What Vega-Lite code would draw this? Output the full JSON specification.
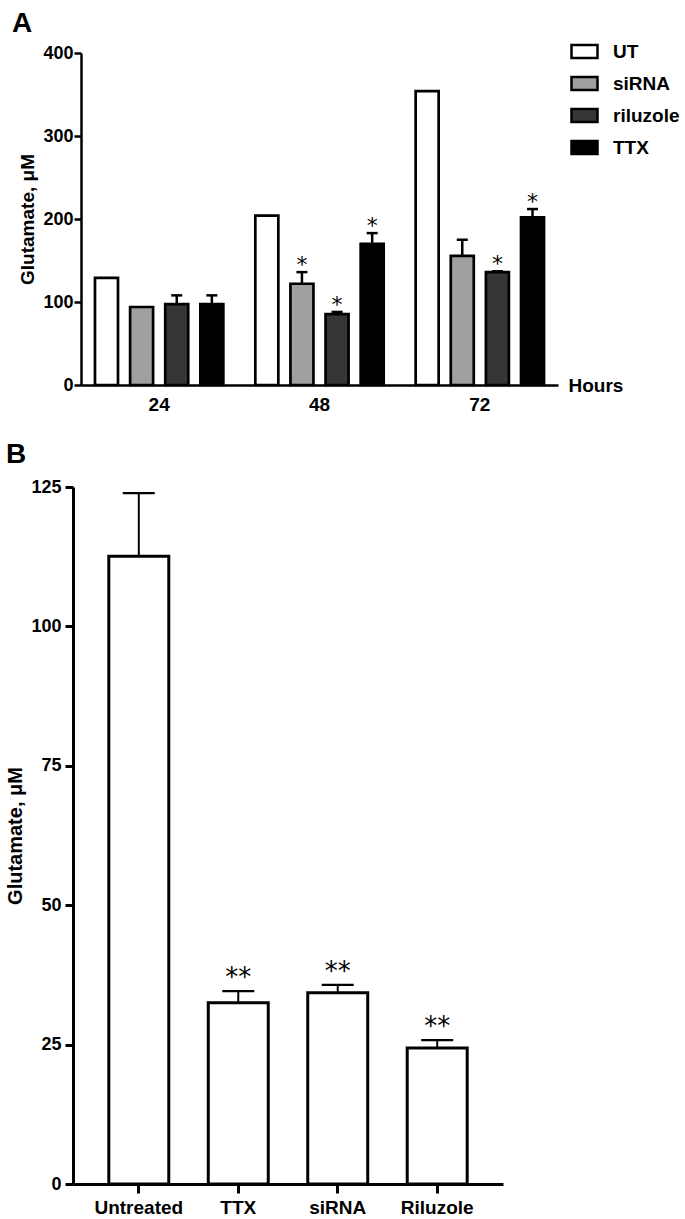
{
  "$schema": "https://vega.github.io/schema/vega-lite/v6.json",
  "background": "white",
  "padding": {"left": 5, "top": 10, "right": 0, "bottom": 0},
  "spacing": 27,
  "config": {
    "view": {"stroke": null},
    "font": "Liberation Sans",
    "axis": {
      "domainColor": "black", "tickColor": "black", "labelColor": "black", "titleColor": "black",
      "labelFont": "Liberation Sans", "labelFontWeight": "bold", "labelFontSize": 18,
      "titleFont": "Liberation Sans", "titleFontWeight": "bold", "titleFontSize": 19,
      "grid": false
    },
    "title": {"font": "Liberation Sans", "fontWeight": "bold", "fontSize": 28, "color": "black", "anchor": "start", "frame": "group"}
  },
  "vconcat": [
    {
      "title": {"text": "A", "dx": -61, "offset": 6},
      "width": 485,
      "height": 332,
      "data": {"values": [
        {"hours": "24", "group": "UT", "mean": 129, "err": null, "star": ""},
        {"hours": "24", "group": "siRNA", "mean": 94, "err": null, "star": ""},
        {"hours": "24", "group": "riluzole", "mean": 97.5, "err": 108, "star": ""},
        {"hours": "24", "group": "TTX", "mean": 97.5, "err": 108, "star": ""},
        {"hours": "48", "group": "UT", "mean": 204, "err": null, "star": ""},
        {"hours": "48", "group": "siRNA", "mean": 122, "err": 136, "star": "*"},
        {"hours": "48", "group": "riluzole", "mean": 85.5, "err": 88, "star": "*"},
        {"hours": "48", "group": "TTX", "mean": 170, "err": 183, "star": "*"},
        {"hours": "72", "group": "UT", "mean": 354, "err": null, "star": ""},
        {"hours": "72", "group": "siRNA", "mean": 155.5, "err": 175, "star": ""},
        {"hours": "72", "group": "riluzole", "mean": 136, "err": 137, "star": "*"},
        {"hours": "72", "group": "TTX", "mean": 202, "err": 212, "star": "*"}
      ]},
      "encoding": {
        "x": {
          "field": "hours", "type": "nominal", "sort": ["24", "48", "72"],
          "scale": {"range": [8, 485], "paddingInner": 0.125, "paddingOuter": 0.05},
          "axis": {
            "domainWidth": 2.5, "ticks": false, "labelPadding": 10, "labelAngle": 0, "labelFontSize": 19,
            "title": "Hours", "titleX": 495, "titleY": 0, "titleAlign": "left", "titleBaseline": "middle", "titleAngle": 0
          }
        },
        "xOffset": {
          "field": "group", "type": "nominal", "sort": ["UT", "siRNA", "riluzole", "TTX"],
          "scale": {"paddingInner": 0.345, "paddingOuter": 0.17}
        }
      },
      "layer": [
        {
          "mark": {"type": "bar", "stroke": "black", "strokeWidth": 2.7},
          "encoding": {
            "y": {
              "field": "mean", "type": "quantitative",
              "scale": {"domain": [0, 400], "nice": false},
              "axis": {
                "values": [0, 100, 200, 300, 400], "offset": -8, "domainWidth": 2.5, "tickWidth": 2.5, "tickSize": 7,
                "labelPadding": 1, "title": "Glutamate, μM", "titlePadding": 5
              }
            },
            "fill": {
              "field": "group", "type": "nominal",
              "scale": {"domain": ["UT", "siRNA", "riluzole", "TTX"], "range": ["#ffffff", "#a0a0a0", "#363636", "#000000"]},
              "legend": {
                "orient": "none", "legendX": 497, "legendY": -16, "title": null,
                "symbolType": "M-1,-0.5H1V0.5H-1Z", "symbolSize": 676,
                "symbolStrokeColor": "black", "symbolStrokeWidth": 2.5, "symbolOpacity": 1,
                "labelFont": "Liberation Sans", "labelFontSize": 19, "labelFontWeight": "bold", "labelColor": "black",
                "labelOffset": 14, "rowPadding": 6
              }
            }
          }
        },
        {
          "transform": [{"filter": "isValid(datum.err)"}],
          "mark": {"type": "rule", "color": "black", "strokeWidth": 2.5},
          "encoding": {
            "y": {"field": "mean", "type": "quantitative"},
            "y2": {"field": "err"}
          }
        },
        {
          "transform": [{"filter": "isValid(datum.err)"}],
          "mark": {"type": "tick", "color": "black", "size": 11, "thickness": 2.5, "opacity": 1},
          "encoding": {
            "y": {"field": "err", "type": "quantitative"}
          }
        },
        {
          "transform": [{"filter": "datum.star != ''"}],
          "mark": {"type": "text", "font": "DejaVu Sans", "fontSize": 22, "baseline": "bottom", "dy": 5, "fill": "black"},
          "encoding": {
            "y": {"field": "err", "type": "quantitative"},
            "text": {"field": "star"}
          }
        }
      ]
    },
    {
      "title": {"text": "B", "dx": -67, "offset": 9},
      "width": 430,
      "height": 697,
      "data": {"values": [
        {"condition": "Untreated", "mean": 112.6, "err": 123.9, "star": ""},
        {"condition": "TTX", "mean": 32.5, "err": 34.6, "star": "**"},
        {"condition": "siRNA", "mean": 34.3, "err": 35.7, "star": "**"},
        {"condition": "Riluzole", "mean": 24.4, "err": 25.8, "star": "**"}
      ]},
      "encoding": {
        "x": {
          "field": "condition", "type": "nominal", "sort": ["Untreated", "TTX", "siRNA", "Riluzole"],
          "scale": {"paddingInner": 0.397, "paddingOuter": 0.36},
          "axis": {
            "domainWidth": 3, "tickWidth": 3, "tickSize": 9, "labelPadding": 5, "labelAngle": 0, "labelFontSize": 19, "title": null
          }
        }
      },
      "layer": [
        {
          "mark": {"type": "bar", "fill": "white", "stroke": "black", "strokeWidth": 3},
          "encoding": {
            "y": {
              "field": "mean", "type": "quantitative",
              "scale": {"domain": [0, 125], "nice": false},
              "axis": {
                "values": [0, 25, 50, 75, 100, 125], "domainWidth": 3, "tickWidth": 3, "tickSize": 8,
                "labelPadding": 4, "title": "Glutamate, μM", "titlePadding": 5, "titleFontSize": 20
              }
            }
          }
        },
        {
          "mark": {"type": "rule", "color": "black", "strokeWidth": 2},
          "encoding": {
            "y": {"field": "mean", "type": "quantitative"},
            "y2": {"field": "err"}
          }
        },
        {
          "mark": {"type": "tick", "color": "black", "size": 32, "thickness": 2.2, "opacity": 1},
          "encoding": {
            "y": {"field": "err", "type": "quantitative"}
          }
        },
        {
          "transform": [{"filter": "datum.star != ''"}],
          "mark": {"type": "text", "font": "DejaVu Sans", "fontSize": 26, "baseline": "bottom", "dy": 0, "fill": "black"},
          "encoding": {
            "y": {"field": "err", "type": "quantitative"},
            "text": {"field": "star"}
          }
        }
      ]
    }
  ]
}
